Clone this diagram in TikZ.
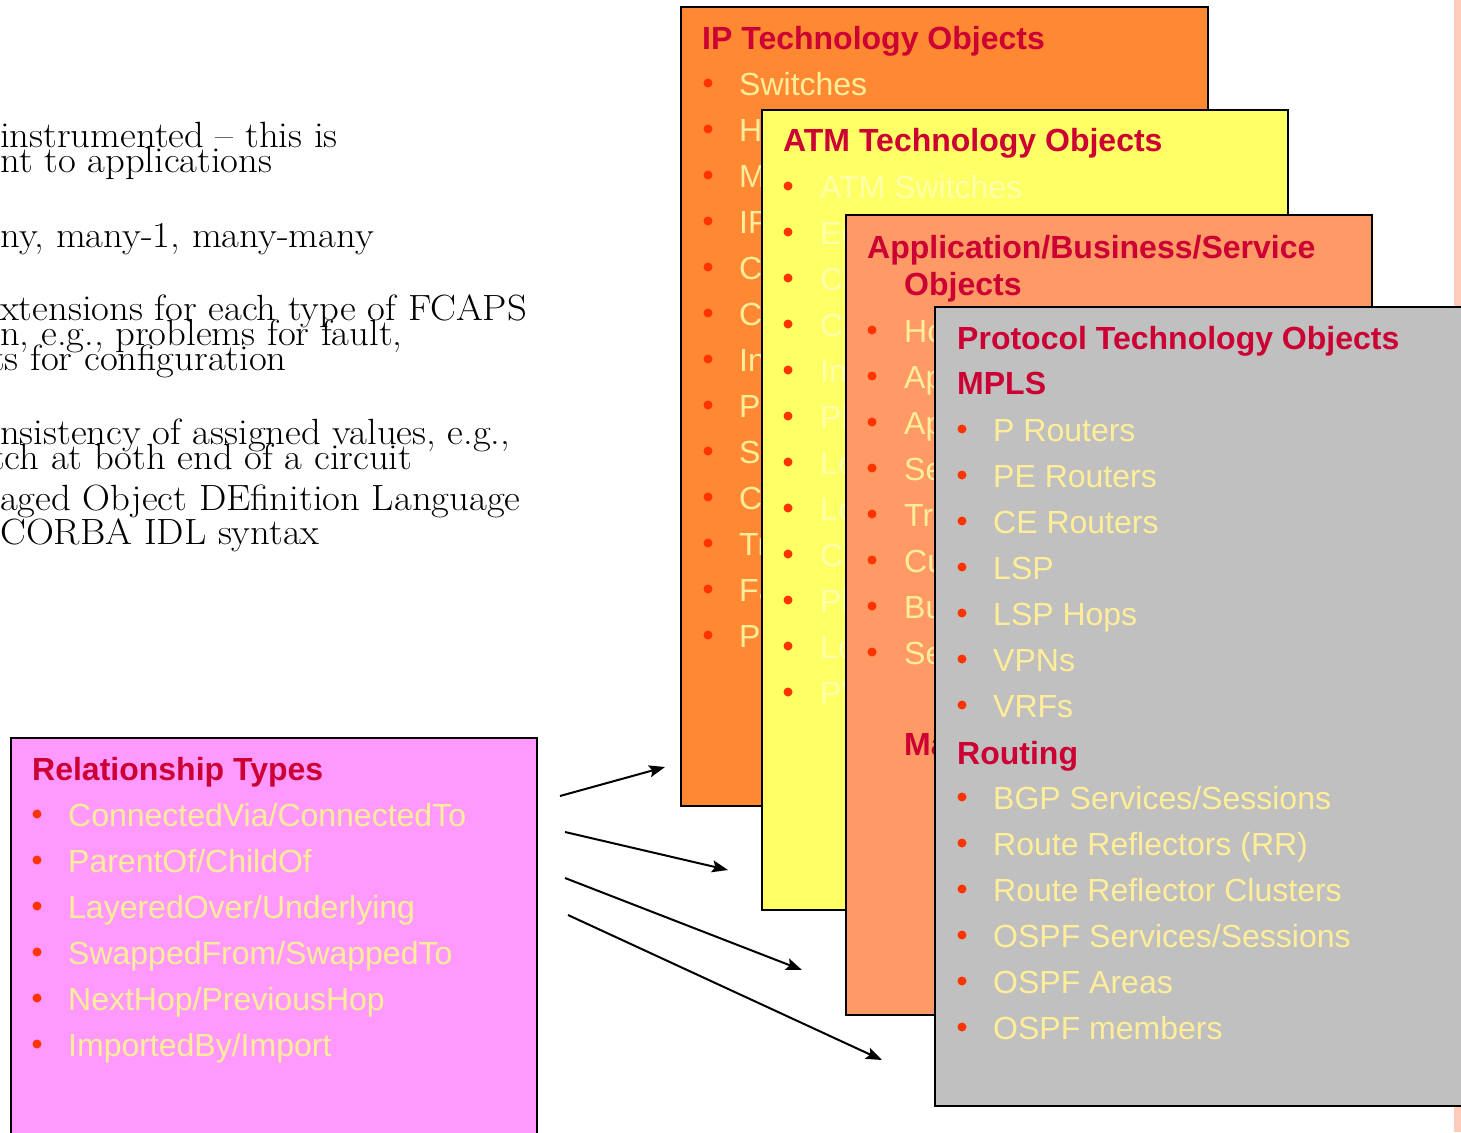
\documentclass[tikz,border=0pt]{standalone}
\usepackage{fontspec}
\newfontfamily\arialfont{Liberation Sans}
\usetikzlibrary{arrows.meta}
\definecolor{iporange}{RGB}{255,136,51}
\definecolor{atmyellow}{RGB}{255,255,102}
\definecolor{appsalmon}{RGB}{255,153,102}
\definecolor{protogrey}{RGB}{192,192,192}
\definecolor{relpink}{RGB}{255,153,255}
\definecolor{titlered}{RGB}{204,0,51}
\definecolor{itemyellow}{RGB}{255,238,153}
\definecolor{paleyellow}{RGB}{255,255,170}
\definecolor{bulletred}{RGB}{255,51,0}
\definecolor{stripcolor}{RGB}{255,204,187}

\begin{document}
\begin{tikzpicture}[x=1pt,y=-1pt,
   card/.style={draw=black,line width=2pt},
   bul/.style={fill=bulletred},
   itm/.style={anchor=base west,inner sep=0pt,text=itemyellow,
     font=\arialfont\fontsize{32}{38}\selectfont},
   ttl/.style={anchor=base west,inner sep=0pt,text=titlered,
     font=\arialfont\bfseries\fontsize{32}{38}\selectfont},
   note/.style={anchor=base west,inner sep=0pt,xscale=1.06,
     font=\fontsize{36.5}{40}\selectfont},
   arr/.style={-{Stealth[length=16pt,width=12pt,inset=3pt]},line width=2pt}]
   \clip (0,0) rectangle (1461,1132);
   \fill[white] (0,0) rectangle (1461,1132);
   \fill[stripcolor] (1454,0) rectangle (1461,1132);
   % text cut at the left edge
   \node[note] (l1) at (0,147) {instrumented -- this is};
   \node[note] (l2) at (0,172) {nt to applications};
   \node[note] (l3) at (0,247) {ny, many-1, many-many};
   \node[note] (l4) at (0,320) {xtensions for each type of FCAPS};
   \node[note] (l5) at (0,345) {n, e.g., problems for fault,};
   \node[note] (l6) at (-9,370) {ts for configuration};
   \node[note] (l7) at (0,444) {nsistency of assigned values, e.g.,};
   \node[note] (l8) at (-9,469) {tch at both end of a circuit};
   \node[note] (l9) at (0,510) {aged Object DEfinition Language};
   \node[note] (l10) at (0,544) {CORBA IDL syntax};
   % IP card
   \draw[card,fill=iporange] (681,7) rectangle (1208,806);
   \node[ttl] (ipt) at (702,49) {IP Technology Objects};
   \foreach \t [count=\i] in {Switches,H,M,IP,C,C,In,P,S,C,Tr,Fa,P}{
      \fill[bul] (708,37+46*\i) circle[radius=4.5pt];
      \node[itm] (ip\i) at (739,49+46*\i) {\t};
   }
   % ATM card
   \draw[card,fill=atmyellow] (762,110) rectangle (1288,910);
   \node[ttl] (atmt) at (783,151) {ATM Technology Objects};
   \foreach \t [count=\i] in {ATM Switches,Ec,C,C,In,Pl,Lo,Lo,C,Pl,Lo,PV}{
      \fill[bul] (788,140+46*\i) circle[radius=4.5pt];
      \node[itm,text=paleyellow] (atm\i) at (820,152+46*\i) {\t};
   }
   % application card
   \draw[card,fill=appsalmon] (846,215) rectangle (1372,1015);
   \node[ttl] (appt) at (867,258) {Application/Business/Service};
   \node[ttl] (appo) at (904,295) {Objects};
   \foreach \t [count=\i] in {Ho,Ap,Ap,Se,Tr,Cu,Bu,Se}{
      \fill[bul] (872,284+46*\i) circle[radius=4.5pt];
      \node[itm] (app\i) at (904,296+46*\i) {\t};
   }
   \node[ttl] (appm) at (904,755) {Ma};
   % protocol card
   \draw[card,fill=protogrey] (935,307) rectangle (1470,1106);
   \node[ttl] (prot) at (957,349) {Protocol Technology Objects};
   \node[ttl] (mpls) at (957,394) {MPLS};
   \foreach \t [count=\i] in {P Routers,PE Routers,CE Routers,LSP,LSP Hops,VPNs,VRFs}{
      \fill[bul] (962,383+46*\i) circle[radius=4.5pt];
      \node[itm] (mp\i) at (993,395+46*\i) {\t};
   }
   \node[ttl] (rout) at (957,764) {Routing};
   \foreach \t [count=\i] in {BGP Services/Sessions,Route Reflectors (RR),
      Route Reflector Clusters,OSPF Services/Sessions,OSPF Areas,OSPF members}{
      \fill[bul] (962,751+46*\i) circle[radius=4.5pt];
      \node[itm] (rt\i) at (993,763+46*\i) {\t};
   }
   % relationship box
   \draw[card,fill=relpink] (11,738) rectangle (537,1145);
   \node[ttl] (relt) at (32,780) {Relationship Types};
   \foreach \t [count=\i] in {ConnectedVia/ConnectedTo,ParentOf/ChildOf,
      LayeredOver/Underlying,SwappedFrom/SwappedTo,NextHop/PreviousHop,
      ImportedBy/Import}{
      \fill[bul] (37,768+46*\i) circle[radius=4.5pt];
      \node[itm] (rel\i) at (68,780+46*\i) {\t};
   }
   % arrows to the cards
   \coordinate (a1s) at (560,796);
   \coordinate (a1e) at (665,767);
   \coordinate (a2s) at (565,832);
   \coordinate (a2e) at (728,870);
   \coordinate (a3s) at (565,878);
   \coordinate (a3e) at (802,970);
   \coordinate (a4s) at (568,915);
   \coordinate (a4e) at (882,1060);
   \draw[arr] (a1s) -- (a1e);
   \draw[arr] (a2s) -- (a2e);
   \draw[arr] (a3s) -- (a3e);
   \draw[arr] (a4s) -- (a4e);
\end{tikzpicture}
\end{document}
